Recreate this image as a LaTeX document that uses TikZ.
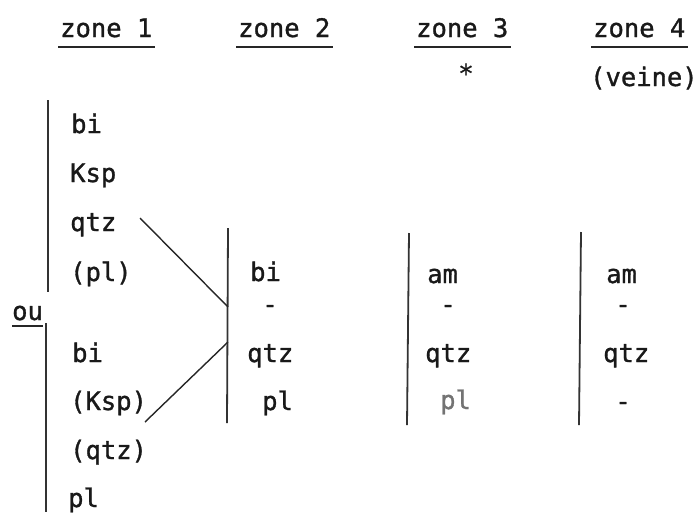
\documentclass[tikz,border=0pt]{standalone}
\usepackage{fontspec}
\setmonofont[FakeBold=1.2]{DejaVu Sans Mono}
\begin{document}
\begin{tikzpicture}[x=1pt,y=-1pt,
  txt/.style={font=\ttfamily\fontsize{25.5}{30}\selectfont, inner sep=0pt, anchor=base west, text=black!90},
  dsh/.style={txt, anchor=base},
  bar/.style={draw=black!80, line width=1.8pt},
  conn/.style={draw=black!85, line width=1.4pt},
  uline/.style={draw=black!85, line width=1.7pt}]
\useasboundingbox (0,0) rectangle (698,512);
% headers
\node[txt] (h1) at (60,37) {zone 1};
\node[txt] (h2) at (238,37) {zone 2};
\node[txt] (h3) at (416,37) {zone 3};
\node[txt] (h4) at (593,37) {zone 4};
\draw[uline] ([xshift=-2pt,yshift=-10pt]h1.base west) -- ([xshift=2pt,yshift=-10pt]h1.base east);
\draw[uline] ([xshift=-2pt,yshift=-10pt]h2.base west) -- ([xshift=2pt,yshift=-10pt]h2.base east);
\draw[uline] ([xshift=-2pt,yshift=-10pt]h3.base west) -- ([xshift=2pt,yshift=-10pt]h3.base east);
\draw[uline] ([xshift=-2pt,yshift=-10pt]h4.base west) -- ([xshift=2pt,yshift=-10pt]h4.base east);
\node[txt, anchor=center] (star) at (466,73) {*};
\node[txt] (veine) at (590,86) {(veine)};
% ou
\node[txt] (ou) at (12,320) {ou};
\draw[uline] ([yshift=-6pt]ou.base west) -- ([yshift=-6pt]ou.base east);
% zone 1 bars
\coordinate (b1a) at (48,100);
\coordinate (b1b) at (48,292);
\coordinate (b1c) at (46,323);
\coordinate (b1d) at (46,512);
\draw[bar] (b1a) -- (b1b);
\draw[bar] (b1c) -- (b1d);
% zone 1 items
\node[txt] (z1a) at (71,133) {bi};
\node[txt] (z1b) at (70,182) {Ksp};
\node[txt] (z1c) at (70,231) {qtz};
\node[txt] (z1d) at (70,281) {(pl)};
\node[txt] (z1e) at (72,362) {bi};
\node[txt] (z1f) at (70,410) {(Ksp)};
\node[txt] (z1g) at (70,459) {(qtz)};
\node[txt] (z1h) at (68,507) {pl};
% zone 2 bar and items
\coordinate (b2a) at (228,228);
\coordinate (b2b) at (227,423);
\draw[bar] (b2a) -- (b2b);
\node[txt] (z2a) at (250,281) {bi};
\node[dsh] (z2b) at (270,313) {-};
\node[txt] (z2c) at (247,362) {qtz};
\node[txt] (z2d) at (262,410) {pl};
% connectors
\coordinate (s1) at (140,218);
\coordinate (j1) at (228,307);
\coordinate (s2) at (145,422);
\coordinate (j2) at (228,342);
\draw[conn] (s1) -- (j1);
\draw[conn] (s2) -- (j2);
% zone 3
\coordinate (b3a) at (409,233);
\coordinate (b3b) at (407,425);
\draw[bar] (b3a) -- (b3b);
\node[txt] (z3a) at (427,283) {am};
\node[dsh] (z3b) at (448,313) {-};
\node[txt] (z3c) at (425,362) {qtz};
\node[txt, text=black!55] (z3d) at (440,409) {pl};
% zone 4
\coordinate (b4a) at (581,232);
\coordinate (b4b) at (579,425);
\draw[bar] (b4a) -- (b4b);
\node[txt] (z4a) at (606,283) {am};
\node[dsh] (z4b) at (623,313) {-};
\node[txt] (z4c) at (603,362) {qtz};
\node[dsh] (z4d) at (623,410) {-};
\end{tikzpicture}
\end{document}
